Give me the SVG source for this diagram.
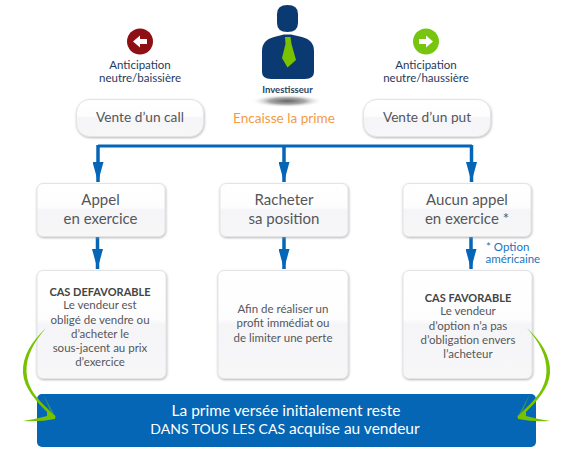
<svg xmlns="http://www.w3.org/2000/svg" width="580" height="455" viewBox="0 0 580 455">
<style>
text{font-family:Lato,"Noto Sans","Liberation Sans",sans-serif;text-anchor:middle}
.box{fill:url(#bg);stroke:#e4e4e6;stroke-width:1;filter:url(#sh)}
.lab{font-size:13.700px;fill:#55565a}
.big{font-size:15px;fill:#55565a}
.sm{font-size:11.500px;fill:#55565a}
.hd{font-size:11px;fill:#444;font-weight:700}
.nv{font-size:11.500px;fill:#1f3a60}
.bl{font-size:11.500px;fill:#1a74c0}
.wt{font-size:15.500px;fill:#fff}
.con{fill:none;stroke:#0566b8;stroke-width:3.500}
.hz{fill:none;stroke:#0566b8;stroke-width:3}
</style>
<defs>
<linearGradient id="bg" x1="0" y1="0" x2="0" y2="1"><stop offset="0" stop-color="#fff"/><stop offset=".45" stop-color="#fdfdfe"/><stop offset=".5" stop-color="#f5f5f8"/><stop offset="1" stop-color="#f7f7f8"/></linearGradient>
<radialGradient id="shd"><stop offset="0" stop-color="#666"/><stop offset=".5" stop-color="#aaa"/><stop offset="1" stop-color="#fff" stop-opacity="0"/></radialGradient>
<filter id="sh" x="-5%" y="-5%" width="110%" height="115%"><feDropShadow dx="0.500" dy="1" stdDeviation="0.800" flood-color="#999" flood-opacity=".7"/></filter>
<marker id="ah" markerWidth="20" markerHeight="11" refX="20" refY="5.500" orient="auto" markerUnits="userSpaceOnUse" viewBox="0 0 20 11"><path d="M0 0L20 5.500L0 11z" fill="#0566b8"/></marker>
<g id="swoosh">
<path d="M46 328C32 341 22 356 23 373C24 388 36 401 47 412L47 416Q36 419 23 421Q40 422 55 419L55.500 416L50 411C38 400 27 388 26.500 372C26 356 34 342 46 328z" fill="#76c200"/>
<path d="M43 394L55 416L50 410z" fill="#3f9a4f"/>
</g>
</defs>

<g id="investisseur">
<ellipse cx="287" cy="101" rx="36" ry="6.500" fill="url(#shd)"/>
<path d="M277 14Q277 5 287.500 5Q298 5 298 14V23Q298 32 287.500 32Q277 32 277 23z" fill="#0b3a72"/>
<path d="M262 51Q262 40 274 37L284 34.500H291L302 37Q314 40 314 51V72Q314 79 305 79H271Q262 79 262 72z" fill="#0b3a72"/>
<path d="M285 37H290.500L291.500 44L296 60L287.500 67.500L282 58L285.500 44z" fill="#7ac200"/>
<text x="287.500" y="93" font-size="9.500" fill="#2b3f5c" font-weight="700">Investisseur</text>
</g>
<g id="baisse">
<circle cx="140" cy="41.500" r="13" fill="#8e0f14"/>
<path d="M133 41.500L140 35.500V39H147V44H140V47.500z" fill="#fff"/>
<text class="nv" x="140" y="69">Anticipation</text>
<text class="nv" x="140" y="82">neutre/baissière</text>
</g>
<g id="hausse">
<circle cx="426" cy="41.500" r="13" fill="#78c50f"/>
<path d="M433 41.500L426 35.500V39H419V44H426V47.500z" fill="#fff"/>
<text class="nv" x="426" y="69">Anticipation</text>
<text class="nv" x="426" y="82">neutre/haussière</text>
</g>

<g id="vente-call"><rect class="box" x="76.500" y="99.500" width="127" height="37" rx="13"/><text class="lab" x="140" y="122">Vente d’un call</text></g>
<g id="prime"><text x="284" y="123" font-size="13.600" fill="#f39b3f">Encaisse la prime</text></g>
<g id="vente-put"><rect class="box" x="363.500" y="99.500" width="127" height="37" rx="13"/><text class="lab" x="427" y="122">Vente d’un put</text></g>

<g id="connectors">
<path class="hz" d="M98 146H472"/>
<path class="con" d="M98 145V182" marker-end="url(#ah)"/>
<path class="con" d="M284 145V182" marker-end="url(#ah)"/>
<path class="con" d="M471.500 145V182" marker-end="url(#ah)"/>
<path class="con" d="M97.500 237V269" marker-end="url(#ah)"/>
<path class="con" d="M284 237V269" marker-end="url(#ah)"/>
<path class="con" d="M471 237V269" marker-end="url(#ah)"/>
</g>

<g id="appel"><rect class="box" x="37" y="183.500" width="128" height="53" rx="6"/><text class="big" x="100.500" y="205">Appel</text><text class="big" x="100.500" y="224">en exercice</text></g>
<g id="racheter"><rect class="box" x="220" y="183.500" width="128" height="53" rx="6"/><text class="big" x="284" y="205">Racheter</text><text class="big" x="284" y="224">sa position</text></g>
<g id="aucun"><rect class="box" x="403" y="183.500" width="128" height="53" rx="6"/><text class="big" x="467" y="205">Aucun appel</text><text class="big" x="467" y="224">en exercice *</text></g>
<g id="note"><text class="bl" x="486" y="250.500" style="text-anchor:start">* Option</text><text class="bl" x="485.500" y="263" style="text-anchor:start">américaine</text></g>

<g id="defavorable"><rect class="box" x="37" y="270.500" width="129" height="108" rx="6"/>
<text class="hd" x="100" y="296">CAS DEFAVORABLE</text>
<text class="sm" x="100" y="309">Le vendeur est</text>
<text class="sm" x="100" y="324">obligé de vendre ou</text>
<text class="sm" x="100" y="338">d’acheter le</text>
<text class="sm" x="100" y="352">sous-jacent au prix</text>
<text class="sm" x="100" y="366">d’exercice</text></g>
<g id="position"><rect class="box" x="218" y="270.500" width="130" height="108" rx="6"/>
<text class="sm" x="283" y="313">Afin de réaliser un</text>
<text class="sm" x="283" y="327">profit immédiat ou</text>
<text class="sm" x="283" y="342">de limiter une perte</text></g>
<g id="favorable"><rect class="box" x="403" y="270.500" width="129" height="108" rx="6"/>
<text class="hd" x="468" y="302">CAS FAVORABLE</text>
<text class="sm" x="468" y="315">Le vendeur</text>
<text class="sm" x="468" y="330">d’option n’a pas</text>
<text class="sm" x="468" y="344">d’obligation envers</text>
<text class="sm" x="468" y="358">l’acheteur</text></g>

<g id="conclusion"><rect x="37" y="394" width="499" height="53" rx="5" fill="#0566b5"/>
<text class="wt" x="286" y="416">La prime versée initialement reste</text>
<text class="wt" x="285" y="434"><tspan font-size="14">DANS TOUS LES CAS</tspan> acquise au vendeur</text></g>

<g id="fleches">
<use href="#swoosh"/>
<use href="#swoosh" transform="translate(573 0) scale(-1 1)"/>
</g>
</svg>
